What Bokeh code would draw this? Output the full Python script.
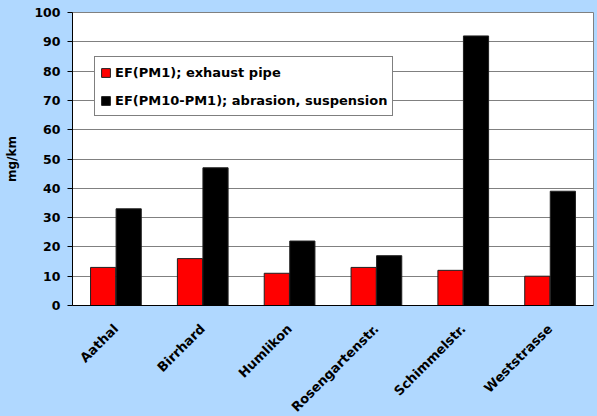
import math
from bokeh.plotting import figure
from bokeh.models import (ColumnDataSource, FactorRange, Range1d, Legend, LegendItem,
                          FixedTicker)
from bokeh.transform import dodge
from bokeh.embed import file_html
from bokeh.resources import INLINE

sites = ["Aathal", "Birrhard", "Humlikon", "Rosengartenstr.", "Schimmelstr.", "Weststrasse"]
ef_pm1 = [13, 16, 11, 13, 12, 10]
ef_pm10_pm1 = [33, 47, 22, 17, 92, 39]
y_ticks = list(range(0, 101, 10))

BG = "#B0D8FF"
FONT = "DejaVu Sans"

src = ColumnDataSource(dict(site=sites, pm1=ef_pm1, pm10=ef_pm10_pm1))

p = figure(x_range=FactorRange(factors=sites, range_padding=0),
           y_range=Range1d(0, 100),
           width=597, height=416, output_backend="svg", toolbar_location=None,
           min_border_left=72, min_border_right=4, min_border_top=12, min_border_bottom=111)
p.frame_width = 521
p.frame_height = 293
p.background_fill_color = "white"
p.border_fill_color = BG
p.outline_line_color = "#808080"

r1 = p.vbar(x=dodge("site", -0.147, range=p.x_range), top="pm1", width=0.29, source=src,
            fill_color="#FF0000", line_color="#202020", line_width=1)
r2 = p.vbar(x=dodge("site", 0.147, range=p.x_range), top="pm10", width=0.29, source=src,
            fill_color="#000000", line_color="#202020", line_width=1)

p.xgrid.grid_line_color = None
p.ygrid.grid_line_color = "#808080"
p.ygrid.ticker = FixedTicker(ticks=y_ticks)

p.yaxis.ticker = FixedTicker(ticks=y_ticks)
p.yaxis.axis_label = "mg/km"
p.yaxis.axis_label_text_font = FONT
p.yaxis.axis_label_text_font_style = "bold"
p.yaxis.axis_label_text_font_size = "12px"
p.yaxis.axis_label_text_color = "black"
p.yaxis.axis_label_standoff = 12
p.yaxis.major_label_text_font = FONT
p.yaxis.major_label_text_font_style = "bold"
p.yaxis.major_label_text_font_size = "12.5px"
p.yaxis.major_label_text_color = "black"
p.yaxis.major_label_standoff = 7
p.yaxis.axis_line_color = "black"
p.yaxis.major_tick_line_color = "black"
p.yaxis.major_tick_out = 5
p.yaxis.major_tick_in = 0
p.yaxis.minor_tick_line_color = None

p.xaxis.major_label_orientation = math.pi / 4
p.xaxis.major_label_text_font = FONT
p.xaxis.major_label_text_font_style = "bold"
p.xaxis.major_label_text_font_size = "13px"
p.xaxis.major_label_text_color = "black"
p.xaxis.major_label_standoff = 15
p.xaxis.axis_line_color = "black"
p.xaxis.major_tick_line_color = None

legend = Legend(items=[LegendItem(label="EF(PM1); exhaust pipe", renderers=[r1]),
                       LegendItem(label="EF(PM10-PM1); abrasion, suspension", renderers=[r2])],
                location=(22, 189))
legend.label_text_font = FONT
legend.label_text_font_style = "bold"
legend.label_text_font_size = "13px"
legend.label_text_color = "black"
legend.glyph_width = 11
legend.glyph_height = 11
legend.label_height = 20
legend.label_standoff = 4
legend.padding = 5
legend.spacing = 8
legend.margin = 0
legend.border_line_color = "black"
legend.border_line_width = 1
legend.background_fill_color = "white"
legend.background_fill_alpha = 1
p.add_layout(legend, "center")

tmpl = "{% block postamble %}<style>body{background:" + BG + ";}</style>{% endblock %}"
open("out.html", "w").write(file_html(p, INLINE, template=tmpl))
